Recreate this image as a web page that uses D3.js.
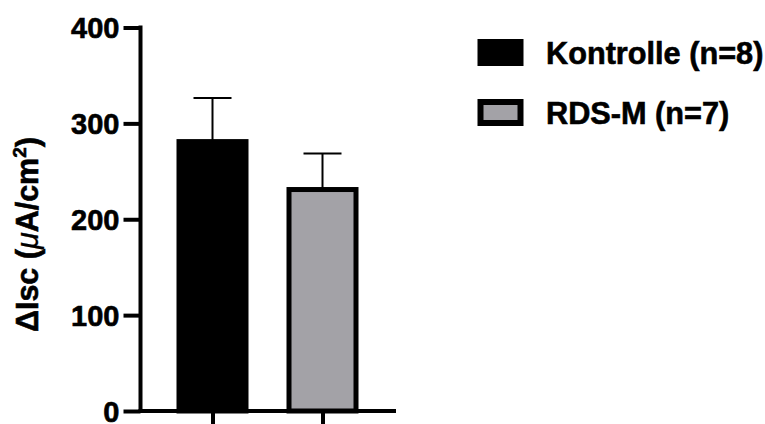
<!DOCTYPE html>
<html>
<head>
<meta charset="utf-8">
<script src="https://cdn.jsdelivr.net/npm/d3@7"></script>
<style>
  html, body { margin: 0; padding: 0; background: #fff; }
  svg { display: block; }
  text { font-family: "Liberation Sans", Arial, sans-serif; font-weight: bold; fill: #000; }
</style>
</head>
<body>
<svg id="chart" width="765" height="424"></svg>
<script>
const categories = ["Kontrolle", "RDS-M"];
const legendLabels = ["Kontrolle (n=8)", "RDS-M (n=7)"];
const means = [281, 231];
const sems = [45.5, 37.5];
const fills = ["#000000", "#a3a2a7"];
const yTicks = [0, 100, 200, 300, 400];

const svg = d3.select("#chart");

const axisX = 140.5, axisY0 = 411, axisYTop = 27.5, axisXEnd = 396;
const y = d3.scaleLinear().domain([0, 400]).range([axisY0, axisYTop]);
const x = d3.scalePoint().domain(categories).range([212.5, 322.5]);

const barOuter = 72, barStroke = 5, capW = 38;

// error bars
const eg = svg.append("g");
categories.forEach((c, i) => {
  const cx = x(c);
  eg.append("line").attr("x1", cx).attr("x2", cx)
    .attr("y1", y(means[i])).attr("y2", y(means[i] + sems[i]))
    .attr("stroke", "#000").attr("stroke-width", 2);
  eg.append("line").attr("x1", cx - capW / 2).attr("x2", cx + capW / 2)
    .attr("y1", y(means[i] + sems[i])).attr("y2", y(means[i] + sems[i]))
    .attr("stroke", "#000").attr("stroke-width", 2);
});

// bars
svg.append("g").selectAll("rect").data(categories).join("rect")
  .attr("x", d => x(d) - barOuter / 2 + barStroke / 2)
  .attr("width", barOuter - barStroke)
  .attr("y", (d, i) => y(means[i]))
  .attr("height", (d, i) => y(0) - y(means[i]))
  .attr("fill", (d, i) => fills[i])
  .attr("stroke", "#000")
  .attr("stroke-width", barStroke);

// y axis
const yAxis = d3.axisLeft(y).tickValues(yTicks).tickSize(17).tickSizeOuter(0).tickPadding(4);
const yg = svg.append("g").attr("transform", `translate(${axisX},0)`).call(yAxis);
yg.select(".domain").remove();
yg.selectAll(".tick line").attr("stroke", "#000").attr("stroke-width", 4);
yg.selectAll(".tick text").style("font-size", "29px").style("font-family", '"Liberation Sans", Arial, sans-serif')
  .style("font-weight", "bold").attr("fill", "#000").attr("dy", "0.35em")
  .attr("stroke", "#000").attr("stroke-width", 0.6);
svg.append("line").attr("x1", axisX).attr("x2", axisX)
  .attr("y1", y(400) - 2).attr("y2", axisY0 + 2)
  .attr("stroke", "#000").attr("stroke-width", 4);

// x axis
const xAxis = d3.axisBottom(x).tickSize(13).tickFormat("");
const xg = svg.append("g").attr("transform", `translate(0,${axisY0})`).call(xAxis);
xg.select(".domain").remove();
xg.selectAll(".tick line").attr("stroke", "#000").attr("stroke-width", 4);
svg.append("line").attr("x1", axisX - 2).attr("x2", axisXEnd)
  .attr("y1", axisY0).attr("y2", axisY0)
  .attr("stroke", "#000").attr("stroke-width", 4);

// y label
const yl = svg.append("text")
  .attr("transform", `translate(38,234.5) rotate(-90)`)
  .attr("text-anchor", "middle")
  .attr("stroke", "#000").attr("stroke-width", 0.6)
  .style("font-size", "30.5px");
yl.append("tspan").text("\u0394Isc (");
yl.append("tspan").style("font-style", "italic").style("font-weight", "normal").attr("stroke-width", 0.3).text("\u03bc");
yl.append("tspan").text("A/cm");
yl.append("tspan").attr("dy", -12).style("font-size", "19px").text("2");
yl.append("tspan").attr("dy", 12).text(")");

// legend
const lg = svg.append("g");
legendLabels.forEach((lab, i) => {
  const ly = 52.5 + i * 60;
  lg.append("rect").attr("x", 480.5).attr("y", ly - 10.5).attr("width", 40).attr("height", 21)
    .attr("fill", fills[i]).attr("stroke", "#000").attr("stroke-width", 6);
  lg.append("text").attr("x", 546).attr("y", ly + 11).style("font-size", "30.7px")
    .attr("stroke", "#000").attr("stroke-width", 0.6).text(lab);
});
</script>
</body>
</html>
